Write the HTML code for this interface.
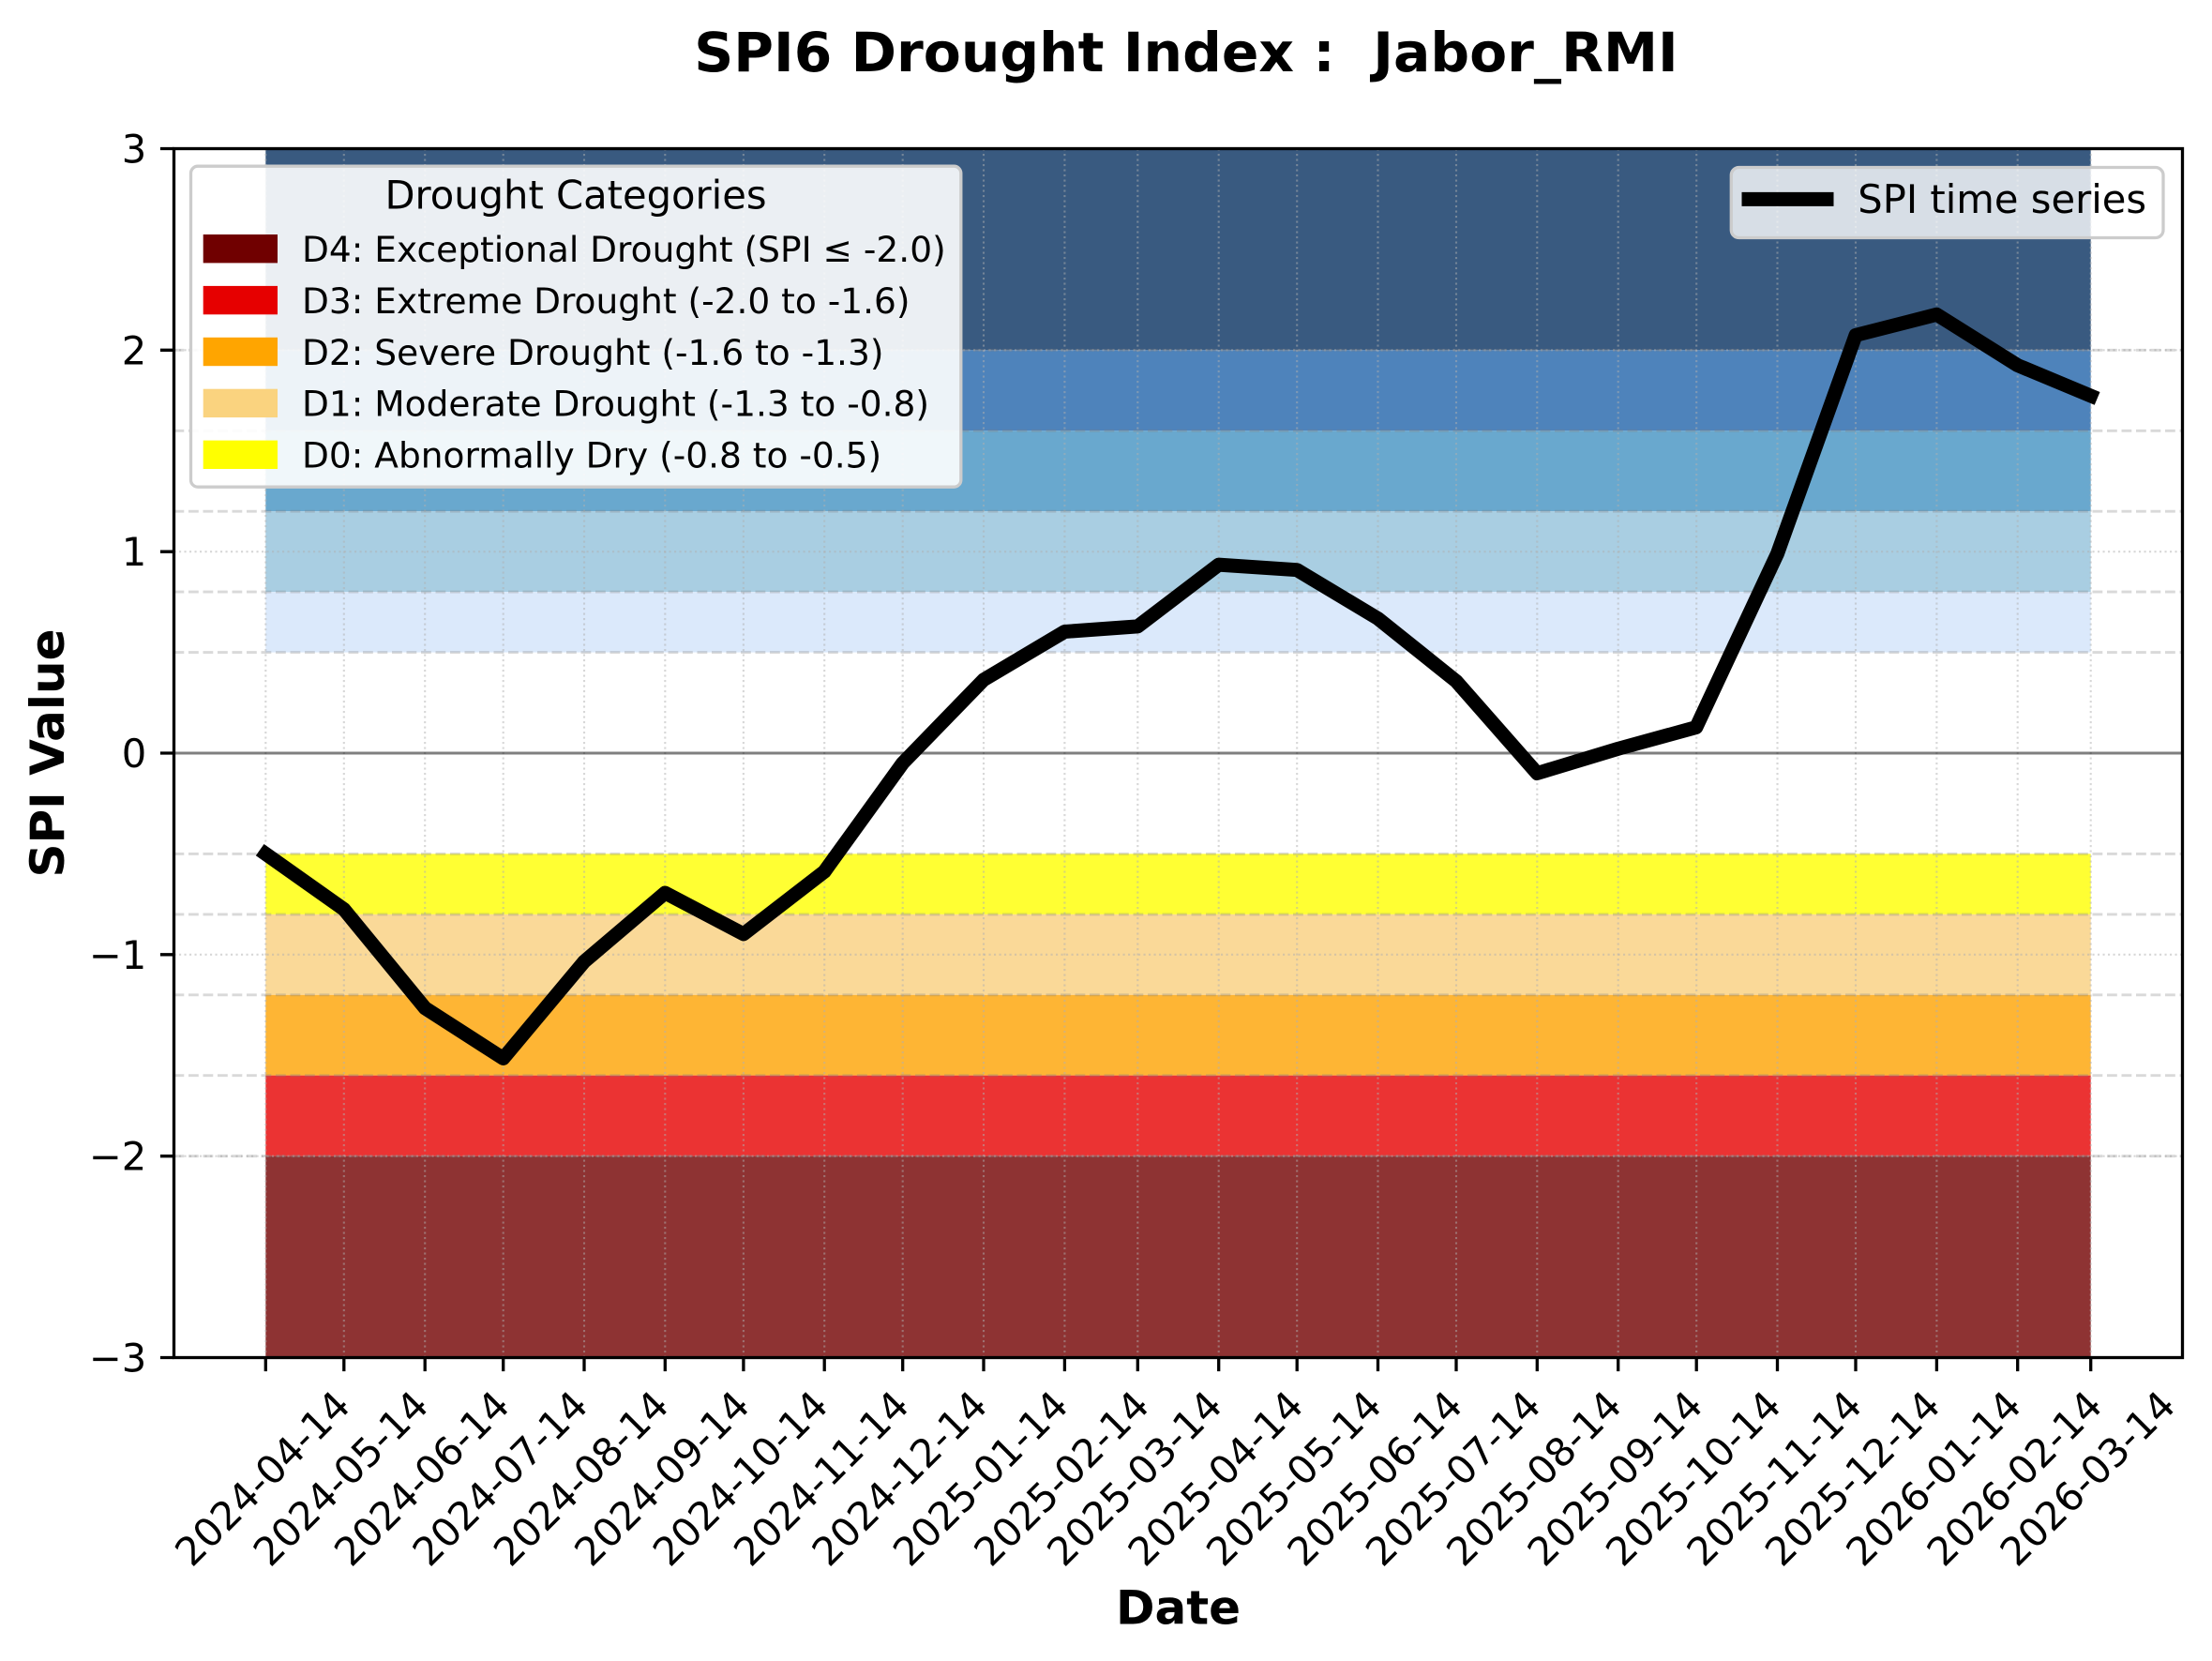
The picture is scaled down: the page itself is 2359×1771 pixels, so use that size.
<!DOCTYPE html>
<html><head><meta charset="utf-8"><style>
html,body{margin:0;padding:0;background:#fff;}
svg{display:block;}
text{font-family:"DejaVu Sans","Liberation Sans",sans-serif;white-space:pre;}
</style></head><body>
<svg xmlns="http://www.w3.org/2000/svg" width="2359" height="1771" viewBox="0 0 2359 1771">
<rect x="0" y="0" width="2359" height="1771" fill="#fff"/>
<!-- bands -->
<rect x="283.3" y="158.5" width="1946.4" height="214.8" fill="#395a80"/>
<rect x="283.3" y="373.3" width="1946.4" height="86" fill="#4e83bb"/>
<rect x="283.3" y="459.3" width="1946.4" height="85.9" fill="#69a8ce"/>
<rect x="283.3" y="545.2" width="1946.4" height="85.9" fill="#a9cee2"/>
<rect x="283.3" y="631.1" width="1946.4" height="64.5" fill="#dbe9fb"/>
<rect x="283.3" y="910.4" width="1946.4" height="64.5" fill="#ffff33"/>
<rect x="283.3" y="974.9" width="1946.4" height="85.9" fill="#fad998"/>
<rect x="283.3" y="1060.8" width="1946.4" height="85.9" fill="#feb534"/>
<rect x="283.3" y="1146.7" width="1946.4" height="86" fill="#eb3333"/>
<rect x="283.3" y="1232.7" width="1946.4" height="214.8" fill="#8e3333"/>
<!-- dotted grid -->
<g stroke="#b0b0b0" stroke-opacity="0.5" stroke-width="2.1" stroke-dasharray="2.1 3.4" fill="none">
<path d="M283.3 158.5V1447.5M366.8 158.5V1447.5M453.2 158.5V1447.5M536.7 158.5V1447.5M623.0 158.5V1447.5M709.3 158.5V1447.5M792.9 158.5V1447.5M879.2 158.5V1447.5M962.7 158.5V1447.5M1049.0 158.5V1447.5M1135.4 158.5V1447.5M1213.3 158.5V1447.5M1299.7 158.5V1447.5M1383.2 158.5V1447.5M1469.5 158.5V1447.5M1553.0 158.5V1447.5M1639.3 158.5V1447.5M1725.7 158.5V1447.5M1809.2 158.5V1447.5M1895.5 158.5V1447.5M1979.0 158.5V1447.5M2065.4 158.5V1447.5M2151.7 158.5V1447.5M2229.7 158.5V1447.5"/>
<path d="M185.5 373.3H2327.5M185.5 588.2H2327.5M185.5 1017.8H2327.5M185.5 1232.7H2327.5"/>
</g>
<!-- dashed thresholds -->
<g stroke="#808080" stroke-opacity="0.3" stroke-width="2.9" stroke-dasharray="10.8 4.7" fill="none">
<path d="M185.5 373.3H2327.5M185.5 459.3H2327.5M185.5 545.2H2327.5M185.5 631.1H2327.5M185.5 695.6H2327.5M185.5 910.4H2327.5M185.5 974.9H2327.5M185.5 1060.8H2327.5M185.5 1146.7H2327.5M185.5 1232.7H2327.5"/>
</g>
<!-- zero line -->
<line x1="185.5" y1="803" x2="2327.5" y2="803" stroke="#000" stroke-opacity="0.5" stroke-width="3"/>
<!-- SPI line -->
<polyline fill="none" stroke="#000" stroke-width="15" stroke-linejoin="round" stroke-linecap="square" points="283.3,910.4 366.8,969.5 453.2,1074.8 536.7,1128.5 623.0,1025.3 709.3,952.0 792.9,995.9 879.2,929.3 962.7,813.7 1049.0,724.8 1135.4,673.5 1213.3,667.9 1299.7,602.1 1383.2,607.7 1469.5,659.5 1553.0,726.3 1639.3,824.5 1725.7,798.3 1808.9,775.5 1895.5,590.3 1979.0,357.4 2065.4,335.3 2151.7,389.5 2229.7,422"/>
<!-- spines -->
<rect x="185.5" y="158.5" width="2142" height="1289" fill="none" stroke="#000" stroke-width="3.3"/>
<!-- ticks -->
<g stroke="#000" stroke-width="3.3">
<path d="M170.9 158.5H185.5M170.9 373.3H185.5M170.9 588.2H185.5M170.9 803H185.5M170.9 1017.8H185.5M170.9 1232.7H185.5M170.9 1447.5H185.5"/>
<path d="M283.3 1447.5v14.6M366.8 1447.5v14.6M453.2 1447.5v14.6M536.7 1447.5v14.6M623.0 1447.5v14.6M709.3 1447.5v14.6M792.9 1447.5v14.6M879.2 1447.5v14.6M962.7 1447.5v14.6M1049.0 1447.5v14.6M1135.4 1447.5v14.6M1213.3 1447.5v14.6M1299.7 1447.5v14.6M1383.2 1447.5v14.6M1469.5 1447.5v14.6M1553.0 1447.5v14.6M1639.3 1447.5v14.6M1725.7 1447.5v14.6M1809.2 1447.5v14.6M1895.5 1447.5v14.6M1979.0 1447.5v14.6M2065.4 1447.5v14.6M2151.7 1447.5v14.6M2229.7 1447.5v14.6"/>
</g>
<!-- y tick labels -->
<g font-size="41.67" text-anchor="end" fill="#000">
<text x="156.3" y="173.5">3</text>
<text x="156.3" y="388.3">2</text>
<text x="156.3" y="603.2">1</text>
<text x="156.3" y="818">0</text>
<text x="156.3" y="1032.8">−1</text>
<text x="156.3" y="1247.7">−2</text>
<text x="156.3" y="1462.5">−3</text>
</g>
<!-- x tick labels -->
<g font-size="41.67" text-anchor="end" fill="#000">
<text transform="translate(375.8,1501) rotate(-45)">2024-04-14</text>
<text transform="translate(459.3,1501) rotate(-45)">2024-05-14</text>
<text transform="translate(545.7,1501) rotate(-45)">2024-06-14</text>
<text transform="translate(629.2,1501) rotate(-45)">2024-07-14</text>
<text transform="translate(715.5,1501) rotate(-45)">2024-08-14</text>
<text transform="translate(801.8,1501) rotate(-45)">2024-09-14</text>
<text transform="translate(885.4,1501) rotate(-45)">2024-10-14</text>
<text transform="translate(971.7,1501) rotate(-45)">2024-11-14</text>
<text transform="translate(1055.2,1501) rotate(-45)">2024-12-14</text>
<text transform="translate(1141.5,1501) rotate(-45)">2025-01-14</text>
<text transform="translate(1227.9,1501) rotate(-45)">2025-02-14</text>
<text transform="translate(1305.8,1501) rotate(-45)">2025-03-14</text>
<text transform="translate(1392.2,1501) rotate(-45)">2025-04-14</text>
<text transform="translate(1475.7,1501) rotate(-45)">2025-05-14</text>
<text transform="translate(1562.0,1501) rotate(-45)">2025-06-14</text>
<text transform="translate(1645.5,1501) rotate(-45)">2025-07-14</text>
<text transform="translate(1731.8,1501) rotate(-45)">2025-08-14</text>
<text transform="translate(1818.2,1501) rotate(-45)">2025-09-14</text>
<text transform="translate(1901.7,1501) rotate(-45)">2025-10-14</text>
<text transform="translate(1988.0,1501) rotate(-45)">2025-11-14</text>
<text transform="translate(2071.5,1501) rotate(-45)">2025-12-14</text>
<text transform="translate(2157.9,1501) rotate(-45)">2026-01-14</text>
<text transform="translate(2244.2,1501) rotate(-45)">2026-02-14</text>
<text transform="translate(2322.2,1501) rotate(-45)">2026-03-14</text>
</g>
<!-- axis labels & title -->
<text x="1256.5" y="1731.7" font-size="50" font-weight="bold" text-anchor="middle">Date</text>
<text transform="translate(68,803) rotate(-90)" font-size="50" font-weight="bold" text-anchor="middle">SPI Value</text>
<text x="1265" y="75.8" font-size="58.33" font-weight="bold" text-anchor="middle">SPI6 Drought Index :  Jabor_RMI</text>
<!-- legend 1 -->
<rect x="203.5" y="177.2" width="821.3" height="342" rx="7.5" ry="7.5" fill="#fff" fill-opacity="0.9" stroke="#cccccc" stroke-width="3.3"/>
<text x="614" y="222.3" font-size="41.67" text-anchor="middle">Drought Categories</text>
<rect x="216.7" y="250" width="79.3" height="30.4" fill="#700000"/>
<rect x="216.7" y="304.9" width="79.3" height="30.4" fill="#e60000"/>
<rect x="216.7" y="359.8" width="79.3" height="30.4" fill="#ffa500"/>
<rect x="216.7" y="414.7" width="79.3" height="30.4" fill="#fad37f"/>
<rect x="216.7" y="469.6" width="79.3" height="30.4" fill="#ffff00"/>
<g font-size="37.5" fill="#000">
<text x="322" y="279">D4: Exceptional Drought (SPI ≤ -2.0)</text>
<text x="322" y="333.9">D3: Extreme Drought (-2.0 to -1.6)</text>
<text x="322" y="388.8">D2: Severe Drought (-1.6 to -1.3)</text>
<text x="322" y="443.7">D1: Moderate Drought (-1.3 to -0.8)</text>
<text x="322" y="498.6">D0: Abnormally Dry (-0.8 to -0.5)</text>
</g>
<!-- legend 2 -->
<rect x="1846.3" y="178.5" width="460.7" height="75" rx="8.3" ry="8.3" fill="#fff" fill-opacity="0.8" stroke="#cccccc" stroke-width="3.3"/>
<line x1="1865" y1="212.4" x2="1948" y2="212.4" stroke="#000" stroke-width="15" stroke-linecap="square"/>
<text x="1981.3" y="227" font-size="41.67">SPI time series</text>
</svg>
</body></html>
